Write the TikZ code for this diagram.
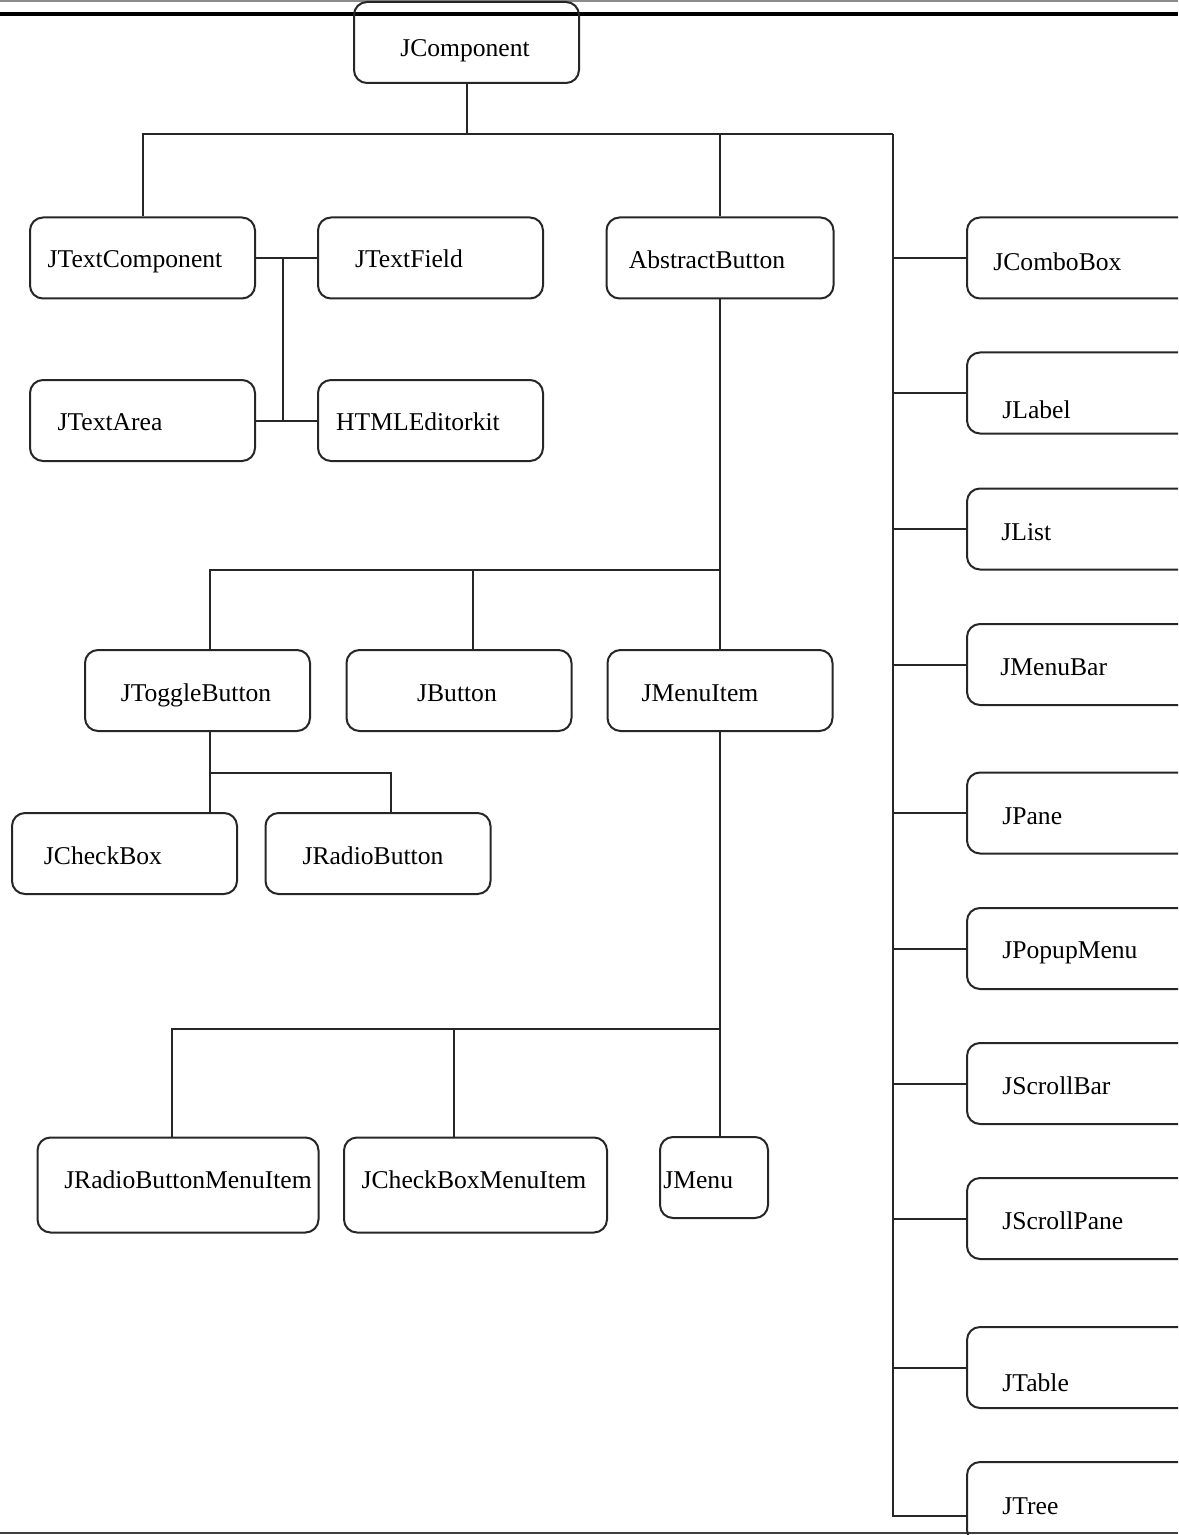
\documentclass[tikz,border=0pt]{standalone}
\usepackage{fontspec}
\setmainfont{Liberation Serif}
\usepackage{tikz}
\usetikzlibrary{calc}

\tikzset{
    cls/.style={draw=black!85, line width=1pt, rounded corners=6.5pt, inner sep=0pt,
        minimum width=112.5pt, minimum height=40.5pt},
    clstxt/.style={inner sep=0pt, anchor=base, font=\fontsize{12.8pt}{14pt}\selectfont},
    link/.style={draw=black!85, line width=1pt}
}

\begin{document}
\begin{tikzpicture}[x=0.5pt, y=-0.5pt]
        \useasboundingbox (0,0) rectangle (1178,1535);
        \clip (0,0) rectangle (1178,1535);

        % Rules at the top and bottom of the page
        \draw[black!45, line width=0.6pt] (0,1) -- (1178,1);
        \draw[line width=2.2pt] (0,14) -- (1178,14);
        \draw[black!75, line width=1pt] (0,1533) -- (1178,1533);

        % Root
        \node[cls] (comp) at (466.5,42.5) {};
        \node[clstxt] (comp-t) at (465,57) {JComponent};

        % Text components
        \node[cls] (tcomp) at (142.5,258) {};
        \node[clstxt] (tcomp-t) at (135,268) {JTextComponent};
        \node[cls] (tfield) at (430.5,258) {};
        \node[clstxt] (tfield-t) at (409,268) {JTextField};
        \node[cls] (tarea) at (142.5,420.5) {};
        \node[clstxt] (tarea-t) at (110,430) {JTextArea};
        \node[cls] (html) at (430.5,420.5) {};
        \node[clstxt] (html-t) at (418,430) {HTMLEditorkit};

        % Buttons
        \node[cls, minimum width=113.5pt] (abtn) at (720,258) {};
        \node[clstxt] (abtn-t) at (707,269) {AbstractButton};
        \node[cls] (tog) at (197.5,690.5) {};
        \node[clstxt] (tog-t) at (196,701) {JToggleButton};
        \node[cls] (jbtn) at (459,690.5) {};
        \node[clstxt] (jbtn-t) at (457,701) {JButton};
        \node[cls] (mitem) at (720,690.5) {};
        \node[clstxt] (mitem-t) at (700,701) {JMenuItem};
        \node[cls] (chk) at (124.5,853.5) {};
        \node[clstxt] (chk-t) at (103,864) {JCheckBox};
        \node[cls] (radio) at (378,853.5) {};
        \node[clstxt] (radio-t) at (373,864) {JRadioButton};

        % Menu items
        \node[cls, minimum width=140.5pt, minimum height=47.5pt] (rbmi) at (178,1185) {};
        \node[clstxt] (rbmi-t) at (188,1188) {JRadioButtonMenuItem};
        \node[cls, minimum width=131.5pt, minimum height=47.5pt] (cbmi) at (475.5,1185) {};
        \node[clstxt] (cbmi-t) at (474,1188) {JCheckBoxMenuItem};
        \node[cls, minimum width=54pt] (menu) at (714,1177.5) {};
        \node[clstxt, anchor=base west] (menu-t) at (663,1188) {JMenu};

        % Right column
        \node[cls, anchor=west] (combo) at (966,258) {};
        \node[clstxt, anchor=base west] (combo-t) at (993,271) {JComboBox};
        \node[cls, anchor=west] (label) at (966,393) {};
        \node[clstxt, anchor=base west] (label-t) at (1002,418) {JLabel};
        \node[cls, anchor=west] (list) at (966,529) {};
        \node[clstxt, anchor=base west] (list-t) at (1001,540) {JList};
        \node[cls, anchor=west] (menubar) at (966,664.5) {};
        \node[clstxt, anchor=base west] (menubar-t) at (1000,675) {JMenuBar};
        \node[cls, anchor=west] (pane) at (966,813) {};
        \node[clstxt, anchor=base west] (pane-t) at (1002,824) {JPane};
        \node[cls, anchor=west] (popup) at (966,948.5) {};
        \node[clstxt, anchor=base west] (popup-t) at (1002,958) {JPopupMenu};
        \node[cls, anchor=west] (sbar) at (966,1083.5) {};
        \node[clstxt, anchor=base west] (sbar-t) at (1002,1094) {JScrollBar};
        \node[cls, anchor=west] (spane) at (966,1218.5) {};
        \node[clstxt, anchor=base west] (spane-t) at (1002,1229) {JScrollPane};
        \node[cls, anchor=west] (table) at (966,1367.5) {};
        \node[clstxt, anchor=base west] (table-t) at (1002,1391) {JTable};
        \node[cls, anchor=west] (tree) at (966,1502.5) {};
        \node[clstxt, anchor=base west] (tree-t) at (1002,1514) {JTree};

        % Main bus under JComponent
        \coordinate (trunk) at (893,134);
        \draw[link] (comp.south) -- (comp.south |- trunk);
        \draw[link] (tcomp.north) |- (trunk);
        \draw[link] (abtn.north) -- (abtn.north |- trunk);
        \draw[link] (trunk) |- ([yshift=-6.5pt]tree.west);
        \foreach \n in {combo,label,list,menubar,pane,popup,sbar,spane,table}
            \draw[link] (trunk |- \n.west) -- (\n.west);

        % Text component links
        \draw[link] (tcomp.east) -- (tfield.west);
        \draw[link] (tarea.east) -- (html.west);
        \draw[link] ([xshift=13.5pt]tcomp.east) -- ([xshift=13.5pt]tarea.east);

        % AbstractButton links
        \draw[link] (abtn.south) -- (mitem.north);
        \draw[link] ([xshift=6pt]tog.north) |- (abtn.south |- 0,570);
        \draw[link] ([xshift=7pt]jbtn.north) -- ([xshift=7pt]jbtn.north |- 0,570);

        % JToggleButton links
        \coordinate (tb) at ([xshift=6pt]tog.south);
        \draw[link] (tb) -- (tb |- chk.north);
        \draw[link] (tb |- 0,773) -| ([xshift=6.5pt]radio.north);

        % JMenuItem links
        \draw[link] (mitem.south) -- (mitem.south |- menu.north);
        \draw[link] (mitem.south |- 0,1029) -| ([xshift=-3pt]rbmi.north);
        \draw[link] ([xshift=-11pt]cbmi.north) -- ([xshift=-11pt]cbmi.north |- 0,1029);
\end{tikzpicture}
\end{document}
